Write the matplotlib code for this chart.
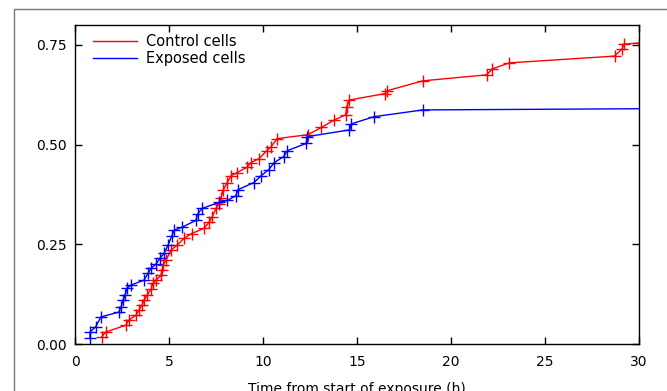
import matplotlib
matplotlib.use('Agg')
import matplotlib.pyplot as plt
from matplotlib.patches import Rectangle
from matplotlib.lines import Line2D

# cumulative incidence
control_t = [1.43, 1.63, 2.7, 2.87, 3.24, 3.4, 3.56, 3.67, 3.83, 4.04, 4.15, 4.3,
             4.57, 4.63, 4.68, 4.84, 5.1, 5.43, 5.8, 6.2, 6.86, 7.13, 7.29, 7.5,
             7.66, 7.77, 7.87, 8.1, 8.3, 8.62, 9.15, 9.36, 9.8, 10.2, 10.4, 10.75,
             12.4, 13.1, 13.8, 14.4, 14.45, 14.6, 16.5, 16.6, 18.5, 21.9, 22.2,
             23.1, 28.7, 29.1, 29.2, 30.0]
control_y = [0.018, 0.03, 0.047, 0.06, 0.072, 0.085, 0.097, 0.11, 0.122, 0.137,
             0.152, 0.16, 0.172, 0.185, 0.197, 0.21, 0.235, 0.248, 0.265, 0.277,
             0.29, 0.305, 0.318, 0.34, 0.352, 0.367, 0.385, 0.405, 0.422, 0.43,
             0.443, 0.455, 0.465, 0.485, 0.493, 0.515, 0.525, 0.543, 0.562, 0.575,
             0.595, 0.612, 0.628, 0.635, 0.66, 0.675, 0.69, 0.705, 0.722, 0.74,
             0.752, 0.755]

exposed_t = [0.8, 0.8, 1.1, 1.38, 2.34, 2.45, 2.55, 2.66, 2.77, 2.98, 3.67, 3.88,
             4.04, 4.3, 4.52, 4.73, 4.95, 5.16, 5.27, 5.7, 6.43, 6.54, 6.76, 7.66,
             8.1, 8.56, 8.67, 9.52, 9.9, 10.3, 10.6, 11.1, 11.3, 12.3, 12.35, 14.6,
             14.7, 15.9, 18.5, 30.0]
exposed_y = [0.015, 0.03, 0.043, 0.068, 0.08, 0.093, 0.11, 0.122, 0.14, 0.148,
             0.16, 0.177, 0.19, 0.2, 0.215, 0.227, 0.248, 0.272, 0.285, 0.293,
             0.31, 0.327, 0.34, 0.355, 0.36, 0.372, 0.387, 0.405, 0.422, 0.437,
             0.455, 0.47, 0.485, 0.503, 0.52, 0.537, 0.552, 0.57, 0.587, 0.59]

xticks = [0, 5, 10, 15, 20, 25, 30]
yticks = [0.0, 0.25, 0.5, 0.75]
ytick_labels = ['0.00', '0.25', '0.50', '0.75']

W, H = 667, 391
fig = plt.figure(figsize=(W / 100, H / 100), dpi=100)

# outer frame of the original figure (cropped on right/bottom)
fig.patches.append(Rectangle((14 / W, -0.2), 1.2, 1.2 - 9 / H,
                             transform=fig.transFigure, fill=False,
                             edgecolor='#777777', linewidth=1.0))

ax = fig.add_axes([75 / W, (H - 344) / H, (639 - 75) / W, (344 - 25) / H])

ax.plot(control_t, control_y, color='red', lw=1.0, marker='+', ms=9, mew=1.0)
ax.plot(exposed_t[:-1], exposed_y[:-1], color='blue', lw=1.0, marker='+', ms=9,
        mew=1.0)
ax.plot(exposed_t[-2:], exposed_y[-2:], color='blue', lw=1.0)

handles = [Line2D([], [], color='red', lw=1.0), Line2D([], [], color='blue', lw=1.0)]
ax.legend(handles, ['Control cells', 'Exposed cells'], loc='upper left',
          frameon=False, fontsize=10.5, handlelength=3.0, handletextpad=0.6,
          labelspacing=0.15, borderaxespad=0.3, bbox_to_anchor=(0.014, 1.005))

ax.set_xlim(0, 30)
ax.set_ylim(0, 0.8)
ax.set_xticks(xticks)
ax.set_yticks(yticks)
ax.set_yticklabels(ytick_labels)
ax.tick_params(direction='in', top=True, right=True, length=5, width=1,
               labelsize=10, pad=6)
ax.tick_params(axis='x', pad=8)
for s in ax.spines.values():
    s.set_linewidth(1.0)
ax.set_xlabel('Time from start of exposure (h)', fontsize=10, labelpad=9)

fig.savefig('out.png', dpi=100)
